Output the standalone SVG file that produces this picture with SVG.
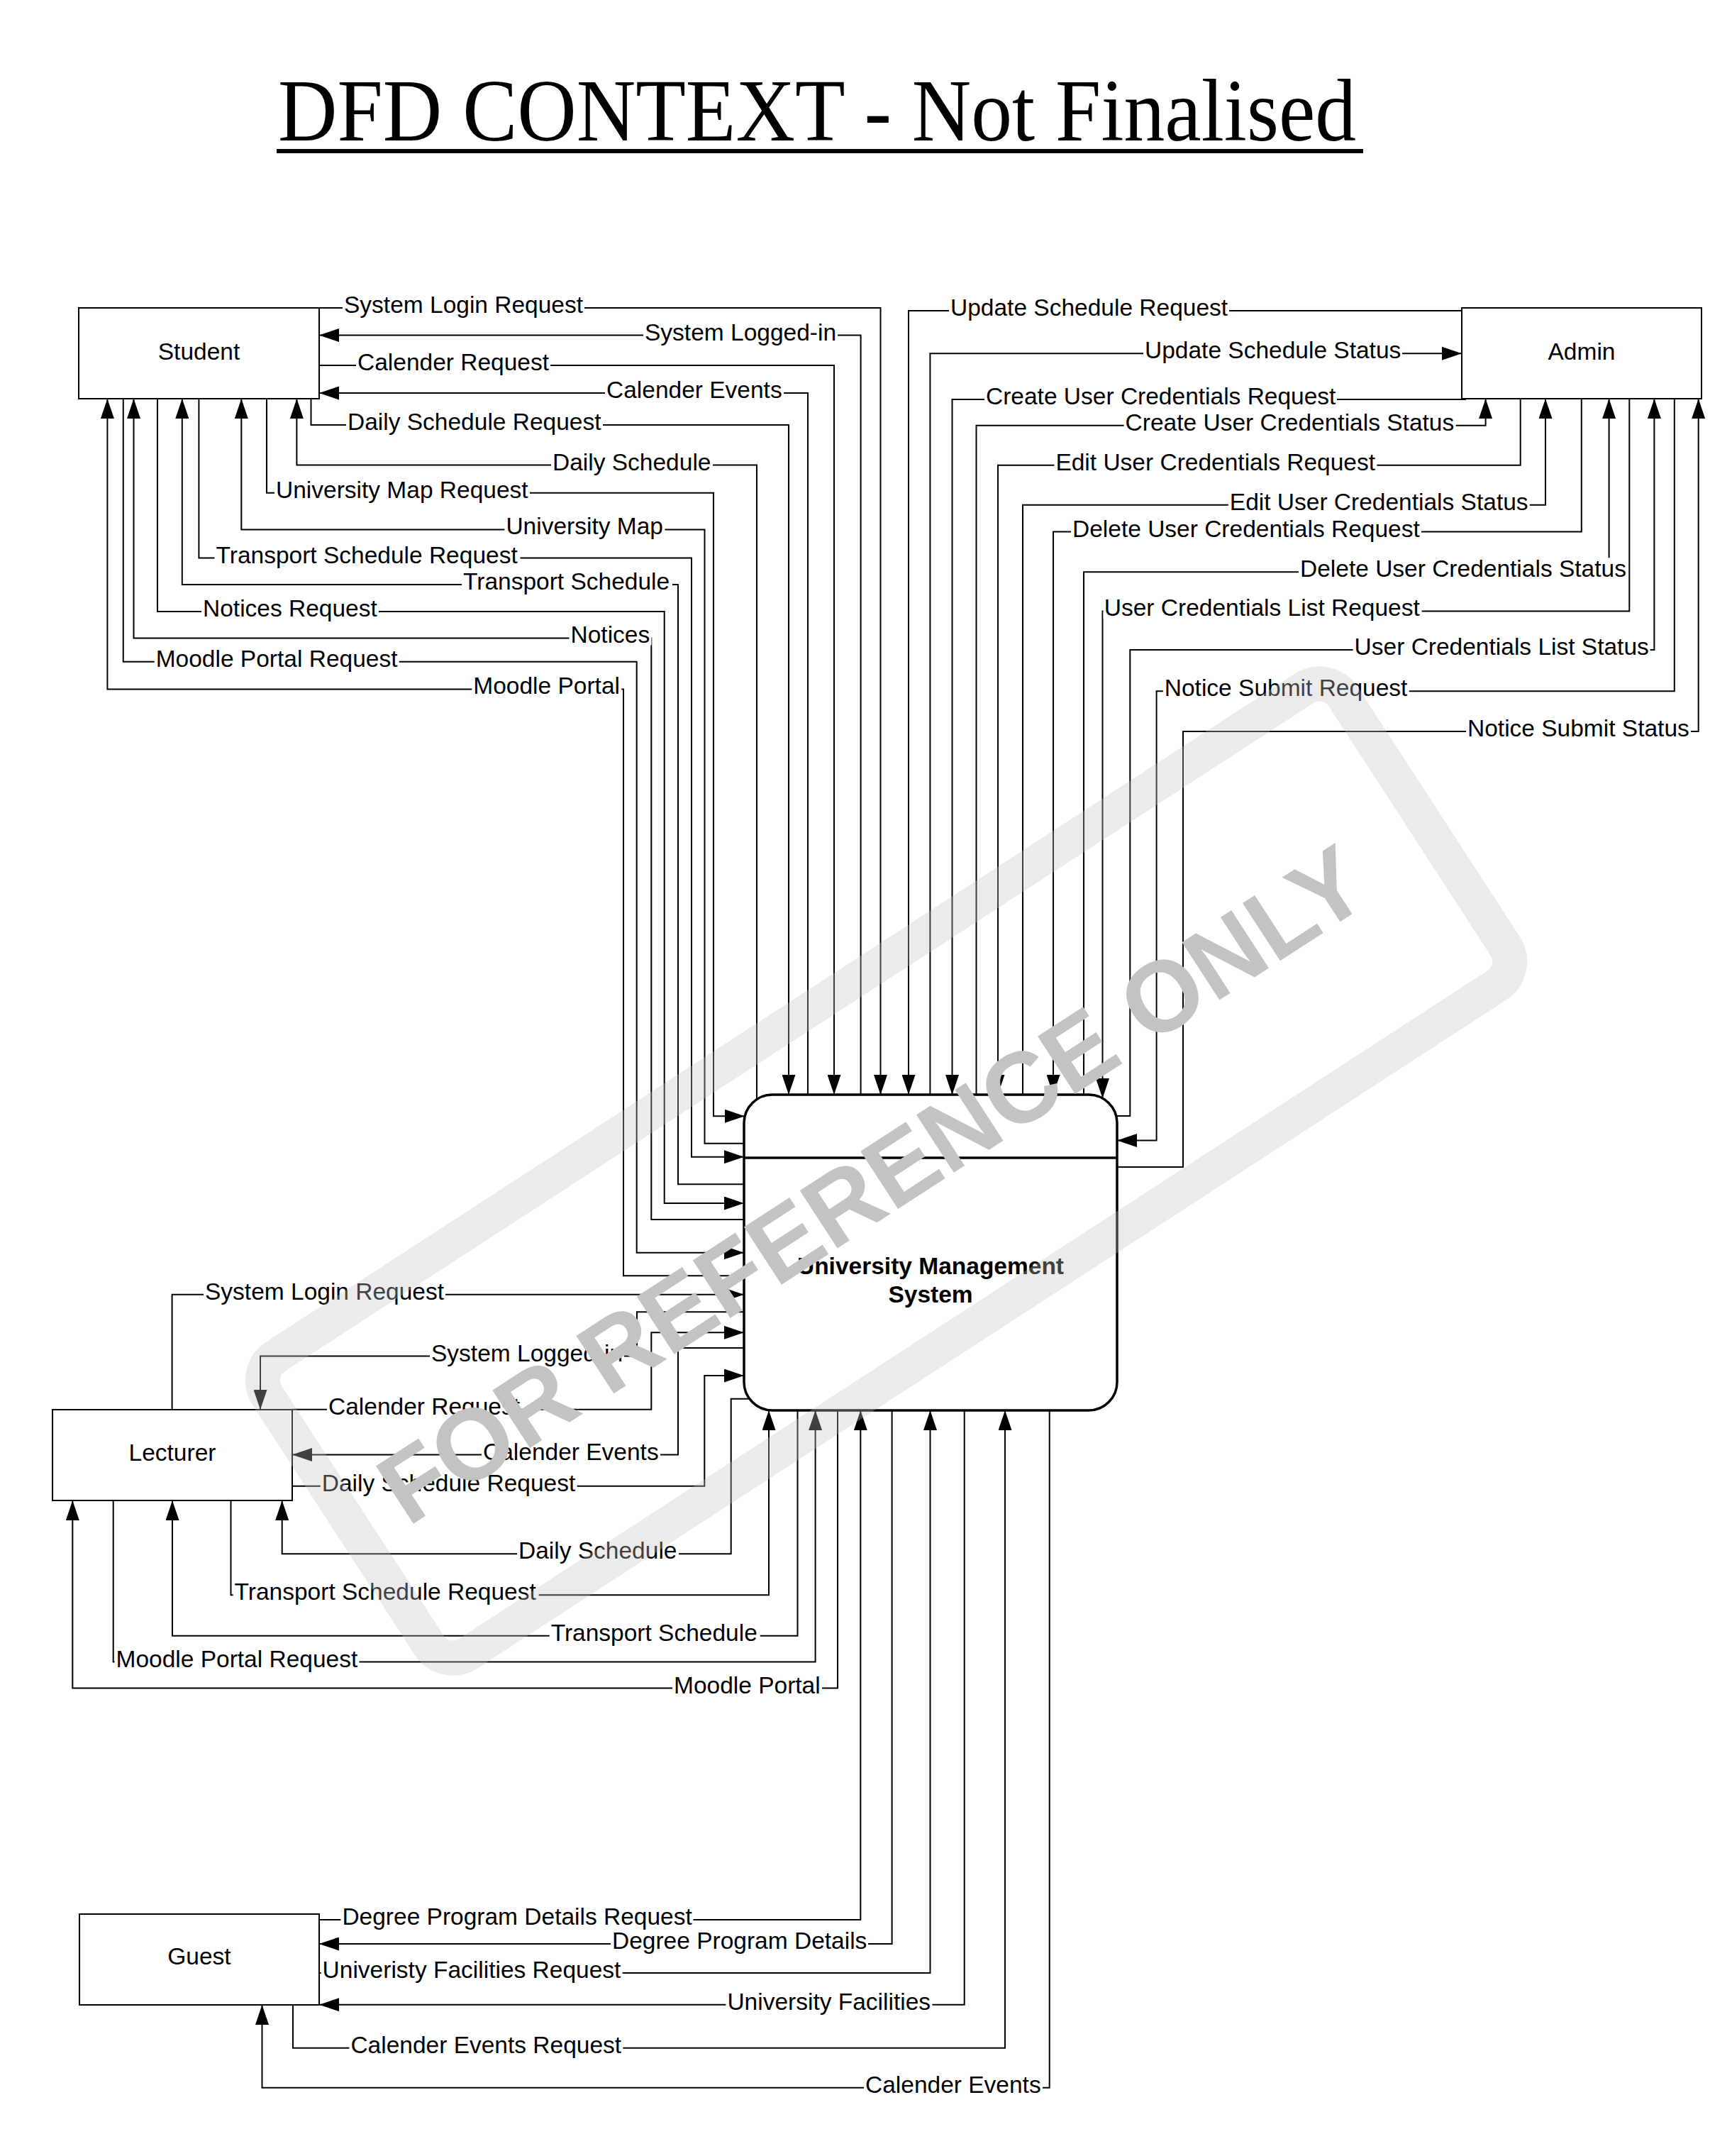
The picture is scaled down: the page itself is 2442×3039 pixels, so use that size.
<svg xmlns="http://www.w3.org/2000/svg" width="2442" height="3039" viewBox="0 0 2442 3039">
<style>
.ln{fill:none;stroke:#000;stroke-width:2}
.bg{fill:#fff}
.lb{font-family:"Liberation Sans",Arial,sans-serif;font-size:33.5px;fill:#000}
.node{fill:#fff;stroke:#000;stroke-width:2}
.nt{font-family:"Liberation Sans",Arial,sans-serif;font-size:33.5px;fill:#000;text-anchor:middle}
</style>
<defs>
<marker id="ah" markerUnits="userSpaceOnUse" markerWidth="28" markerHeight="19" refX="28" refY="9.5" orient="auto">
<path d="M0,0 L28,9.5 L0,19 Z" fill="#000"/>
</marker>
</defs>
<rect width="2442" height="3039" fill="#fff"/>
<g id="title">
<text x="392" y="198" font-family="'Liberation Serif','Times New Roman',serif" font-size="125" textLength="1520" lengthAdjust="spacingAndGlyphs" fill="#000">DFD CONTEXT - Not Finalised</text>
<rect x="390" y="210" width="1532" height="6" fill="#000"/>
</g>
<g id="connectors">
<!-- Student -->
<path class="ln" marker-end="url(#ah)" d="M450,434 H1241.5 V1543"/>
<path class="ln" marker-end="url(#ah)" d="M1213.6,1543 V472.5 H450"/>
<path class="ln" marker-end="url(#ah)" d="M450,515 H1176 V1543"/>
<path class="ln" marker-end="url(#ah)" d="M1139,1543 V554 H450"/>
<path class="ln" marker-end="url(#ah)" d="M438.5,562 V599 H1112 V1543"/>
<path class="ln" marker-end="url(#ah)" d="M1067,1550 V655.6 H418.4 V562"/>
<path class="ln" marker-end="url(#ah)" d="M376,562 V694.7 H1006 V1573.3 H1050"/>
<path class="ln" marker-end="url(#ah)" d="M1049,1611.7 H993.5 V746.4 H340.3 V562"/>
<path class="ln" marker-end="url(#ah)" d="M280.4,562 V786.5 H975 V1630.7 H1049"/>
<path class="ln" marker-end="url(#ah)" d="M1049,1669.3 H956 V824 H256.8 V562"/>
<path class="ln" marker-end="url(#ah)" d="M222,562 V862 H936.7 V1696 H1049"/>
<path class="ln" marker-end="url(#ah)" d="M1049,1719 H918.3 V899.4 H188.5 V562"/>
<path class="ln" marker-end="url(#ah)" d="M173.75,562 V932.7 H897.7 V1765.7 H1049"/>
<path class="ln" marker-end="url(#ah)" d="M1049,1798.3 H879 V971.4 H151.4 V562"/>
<!-- Admin -->
<path class="ln" marker-end="url(#ah)" d="M2061,438 H1281 V1543"/>
<path class="ln" marker-end="url(#ah)" d="M1311.4,1543 V498.3 H2061"/>
<path class="ln" marker-end="url(#ah)" d="M2067,563 H1342.5 V1543"/>
<path class="ln" marker-end="url(#ah)" d="M1376.5,1543 V599.8 H2094.6 V562"/>
<path class="ln" marker-end="url(#ah)" d="M2143.7,562 V655.8 H1407 V1543"/>
<path class="ln" marker-end="url(#ah)" d="M1442,1543 V711.8 H2179 V562"/>
<path class="ln" marker-end="url(#ah)" d="M2229.8,562 V749.5 H1485 V1543"/>
<path class="ln" marker-end="url(#ah)" d="M1528,1543 V806.3 H2268.6 V562"/>
<path class="ln" marker-end="url(#ah)" d="M2297.3,562 V861.4 H1554.5 V1548"/>
<path class="ln" marker-end="url(#ah)" d="M1574,1573 H1593.3 V916 H2332.4 V562"/>
<path class="ln" marker-end="url(#ah)" d="M2360.8,562 V974.2 H1630.6 V1607.5 H1575"/>
<path class="ln" marker-end="url(#ah)" d="M1575,1645 H1668 V1031 H2394.7 V562"/>
<!-- Lecturer -->
<path class="ln" marker-end="url(#ah)" d="M242.6,1987 V1824.8 H1049"/>
<path class="ln" marker-end="url(#ah)" d="M1049,1849.3 H898 V1911.5 H367 V1987"/>
<path class="ln" marker-end="url(#ah)" d="M412,1986.8 H918.3 V1878.3 H1049"/>
<path class="ln" marker-end="url(#ah)" d="M1049,1900 H956 V2050.5 H412"/>
<path class="ln" marker-end="url(#ah)" d="M412,2094.8 H993.3 V1939 H1049"/>
<path class="ln" marker-end="url(#ah)" d="M1056,1971.7 H1030.7 V2190.3 H397.7 V2115"/>
<path class="ln" marker-end="url(#ah)" d="M325.5,2115 V2248.3 H1084 V1988"/>
<path class="ln" marker-end="url(#ah)" d="M1124.5,1988 V2305.7 H243 V2115"/>
<path class="ln" marker-end="url(#ah)" d="M159.7,2115 V2342.5 H1149.6 V1988"/>
<path class="ln" marker-end="url(#ah)" d="M1181,1988 V2379.5 H102.3 V2115"/>
<!-- Guest -->
<path class="ln" marker-end="url(#ah)" d="M450,2706 H1213.3 V1988"/>
<path class="ln" marker-end="url(#ah)" d="M1257.6,1988 V2740 H450"/>
<path class="ln" marker-end="url(#ah)" d="M450,2781 H1311.5 V1988"/>
<path class="ln" marker-end="url(#ah)" d="M1359.7,1988 V2825.7 H450"/>
<path class="ln" marker-end="url(#ah)" d="M413,2826 V2886.7 H1417 V1988"/>
<path class="ln" marker-end="url(#ah)" d="M1479.7,1988 V2942.7 H369.5 V2826"/>
</g>
<g id="labels">
<rect class="bg" x="483" y="414" width="341" height="30"/><text class="lb" x="485" y="441">System Login Request</text>
<rect class="bg" x="907" y="452.5" width="274" height="30"/><text class="lb" x="909" y="479.5">System Logged-in</text>
<rect class="bg" x="502" y="495" width="274" height="30"/><text class="lb" x="504" y="522">Calender Request</text>
<rect class="bg" x="853" y="534" width="252" height="30"/><text class="lb" x="855" y="561">Calender Events</text>
<rect class="bg" x="488" y="579" width="362" height="30"/><text class="lb" x="490" y="606">Daily Schedule Request</text>
<rect class="bg" x="777" y="635.6" width="228" height="30"/><text class="lb" x="779" y="662.6">Daily Schedule</text>
<rect class="bg" x="387" y="674.7" width="360" height="30"/><text class="lb" x="389" y="701.7">University Map Request</text>
<rect class="bg" x="711.4" y="726.4" width="226" height="30"/><text class="lb" x="713.4" y="753.4">University Map</text>
<rect class="bg" x="302.5" y="766.5" width="431" height="30"/><text class="lb" x="304.5" y="793.5">Transport Schedule Request</text>
<rect class="bg" x="651" y="804" width="297" height="30"/><text class="lb" x="653" y="831">Transport Schedule</text>
<rect class="bg" x="284" y="842" width="250" height="30"/><text class="lb" x="286" y="869">Notices Request</text>
<rect class="bg" x="802.5" y="879.4" width="116" height="30"/><text class="lb" x="804.5" y="906.4">Notices</text>
<rect class="bg" x="217.7" y="912.7" width="345" height="30"/><text class="lb" x="219.7" y="939.7">Moodle Portal Request</text>
<rect class="bg" x="665.3" y="951.4" width="211" height="30"/><text class="lb" x="667.3" y="978.4">Moodle Portal</text>

<rect class="bg" x="1338" y="418" width="395" height="30"/><text class="lb" x="1340" y="445">Update Schedule Request</text>
<rect class="bg" x="1612" y="478.3" width="365" height="30"/><text class="lb" x="1614" y="505.3">Update Schedule Status</text>
<rect class="bg" x="1388" y="543" width="497" height="30"/><text class="lb" x="1390" y="570">Create User Credentials Request</text>
<rect class="bg" x="1584.6" y="579.8" width="468" height="30"/><text class="lb" x="1586.6" y="606.8">Create User Credentials Status</text>
<rect class="bg" x="1486.4" y="635.8" width="455" height="30"/><text class="lb" x="1488.4" y="662.8">Edit User Credentials Request</text>
<rect class="bg" x="1731.8" y="691.8" width="425" height="30"/><text class="lb" x="1733.8" y="718.8">Edit User Credentials Status</text>
<rect class="bg" x="1510" y="729.5" width="494" height="30"/><text class="lb" x="1512" y="756.5">Delete User Credentials Request</text>
<rect class="bg" x="1831" y="786.3" width="464" height="30"/><text class="lb" x="1833" y="813.3">Delete User Credentials Status</text>
<rect class="bg" x="1555.5" y="841.4" width="449" height="30"/><text class="lb" x="1556.8" y="868.4">User Credentials List Request</text>
<rect class="bg" x="1907.6" y="896" width="419" height="30"/><text class="lb" x="1909.6" y="923">User Credentials List Status</text>
<rect class="bg" x="1639.8" y="954.2" width="347" height="30"/><text class="lb" x="1641.8" y="981.2">Notice Submit Request</text>
<rect class="bg" x="2067" y="1011" width="317" height="30"/><text class="lb" x="2069" y="1038">Notice Submit Status</text>

<rect class="bg" x="287" y="1804.8" width="341" height="30"/><text class="lb" x="289" y="1831.8">System Login Request</text>
<rect class="bg" x="606" y="1891.5" width="274" height="30"/><text class="lb" x="608" y="1918.5">System Logged-in</text>
<rect class="bg" x="461" y="1966.8" width="274" height="30"/><text class="lb" x="463" y="1993.8">Calender Request</text>
<rect class="bg" x="679" y="2030.5" width="252" height="30"/><text class="lb" x="681" y="2057.5">Calender Events</text>
<rect class="bg" x="451.7" y="2074.8" width="362" height="30"/><text class="lb" x="453.7" y="2101.8">Daily Schedule Request</text>
<rect class="bg" x="729" y="2170.3" width="228" height="30"/><text class="lb" x="731" y="2197.3">Daily Schedule</text>
<rect class="bg" x="328.6" y="2228.3" width="431" height="30"/><text class="lb" x="330.6" y="2255.3">Transport Schedule Request</text>
<rect class="bg" x="774.7" y="2285.7" width="297" height="30"/><text class="lb" x="776.7" y="2312.7">Transport Schedule</text>
<rect class="bg" x="161.5" y="2322.5" width="345" height="30"/><text class="lb" x="163.5" y="2349.5">Moodle Portal Request</text>
<rect class="bg" x="948" y="2359.5" width="211" height="30"/><text class="lb" x="950" y="2386.5">Moodle Portal</text>

<rect class="bg" x="480.4" y="2686" width="497" height="30"/><text class="lb" x="482.4" y="2713">Degree Program Details Request</text>
<rect class="bg" x="861" y="2720" width="363" height="30"/><text class="lb" x="863" y="2747">Degree Program Details</text>
<rect class="bg" x="452.6" y="2761" width="425" height="30"/><text class="lb" x="454.6" y="2788">Univeristy Facilities Request</text>
<rect class="bg" x="1023.4" y="2805.7" width="291" height="30"/><text class="lb" x="1025.4" y="2832.7">University Facilities</text>
<rect class="bg" x="492.4" y="2866.7" width="386" height="30"/><text class="lb" x="494.4" y="2893.7">Calender Events Request</text>
<rect class="bg" x="1218" y="2922.7" width="252" height="30"/><text class="lb" x="1220" y="2949.7">Calender Events</text>
</g>
<g id="student">
<rect class="node" x="111" y="434" width="339" height="128"/>
<text class="nt" x="280.5" y="507">Student</text>
</g>
<g id="admin">
<rect class="node" x="2061" y="434" width="338" height="128"/>
<text class="nt" x="2230" y="507">Admin</text>
</g>
<g id="lecturer">
<rect class="node" x="74" y="1987" width="338" height="128"/>
<text class="nt" x="243" y="2059">Lecturer</text>
</g>
<g id="guest">
<rect class="node" x="112" y="2698" width="338" height="128"/>
<text class="nt" x="281" y="2769">Guest</text>
</g>
<g id="ums">
<rect x="1049" y="1543" width="526" height="445" rx="40" ry="40" fill="#fff" stroke="#000" stroke-width="3.5"/>
<line x1="1049" y1="1632" x2="1575" y2="1632" stroke="#000" stroke-width="3.5"/>
<text x="1312" y="1796" font-family="'Liberation Sans',Arial,sans-serif" font-size="33.5" font-weight="bold" text-anchor="middle" fill="#000">University Management</text>
<text x="1312" y="1836" font-family="'Liberation Sans',Arial,sans-serif" font-size="33.5" font-weight="bold" text-anchor="middle" fill="#000">System</text>
</g>
<g id="watermark">
<rect x="345" y="1401" width="1809" height="499" rx="40" ry="40" fill="none" stroke="#c2c2c2" stroke-opacity="0.33" stroke-width="49" transform="rotate(-33 1249.5 1650.5)"/>
<text x="575" y="2153" transform="rotate(-33 575 2153)" font-family="'Liberation Sans',Arial,sans-serif" font-size="141" font-weight="bold" fill="#c3c3c3">FOR REFERENCE ONLY</text>
</g>
</svg>
